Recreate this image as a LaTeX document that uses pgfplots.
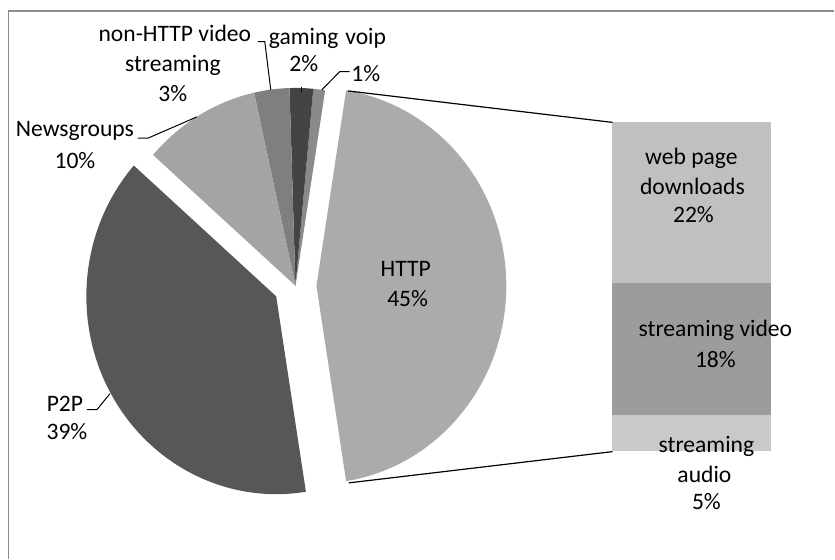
\documentclass[border=0pt]{standalone}
\usepackage{fontspec}
\setmainfont{Carlito}
\usepackage{pgfplots}
\pgfplotsset{compat=1.18}

\definecolor{cHTTP}{HTML}{ABABAB}
\definecolor{cP2P}{HTML}{575757}
\definecolor{cNews}{HTML}{A4A4A4}
\definecolor{cNon}{HTML}{7F7F7F}
\definecolor{cGame}{HTML}{444444}
\definecolor{cVoip}{HTML}{8A8A8A}
\definecolor{cWeb}{HTML}{C0C0C0}
\definecolor{cVideo}{HTML}{9C9C9C}
\definecolor{cAudio}{HTML}{C9C9C9}
\definecolor{frame}{HTML}{8C8C8C}

% one line of a data label, x centre and baseline in pixel units
\newcommand{\lab}[3]{\node[anchor=base,inner sep=0pt] at (axis cs:#1,#2) {#3};}

\begin{document}
\begin{tikzpicture}[font=\fontsize{11.8bp}{15bp}\selectfont]
\fill[white] (0,0) rectangle (417.5bp,279.5bp);

% bar of the HTTP slice: web page downloads 22, streaming video 18, streaming audio 5
\begin{axis}[
    at={(306.5bp,53.6bp)}, anchor=south west,
    width=79.5bp, height=164.6bp, scale only axis,
    xmin=0, xmax=1, ymin=0, ymax=45,
    hide axis, clip=false,
    ybar stacked, bar width=79.5bp,
]
\addplot[fill=cAudio, draw=none] coordinates {(0.5,5)};
\addplot[fill=cVideo, draw=none] coordinates {(0.5,18)};
\addplot[fill=cWeb, draw=none] coordinates {(0.5,22)};
\end{axis}

% main axis in pixel units of the reference (y down)
\begin{axis}[
    at={(0,0)}, anchor=south west,
    width=417.5bp, height=279.5bp, scale only axis,
    xmin=0, xmax=835, ymin=0, ymax=559, y dir=reverse,
    hide axis, clip=false,
]
\pgfplotsextra{
  \xdef\curang{81}
  % value / colour / explode (px)
  \foreach \v/\c/\e in {1/cVoip/0, 2/cGame/0, 3/cNon/0, 10/cNews/0, 39/cP2P/22, 45/cHTTP/21}{
    \pgfmathsetmacro{\endang}{\curang+3.6*\v}
    \pgfmathsetmacro{\midang}{(\curang+\endang)/2}
    \pgfmathsetmacro{\cx}{295.7+\e*cos(\midang)}
    \pgfmathsetmacro{\cy}{286-\e*sin(\midang)}
    \fill[\c] (axis cs:\cx,\cy) -- ++(\curang:95bp and 99bp)
      arc[start angle=\curang, end angle=\endang, x radius=95bp, y radius=99bp] -- cycle;
    \xdef\curang{\endang}
  }
}

% frame
\draw[frame, line width=0.7bp] (axis cs:8.3,559) -- (axis cs:8.3,11) -- (axis cs:835,11);

% connectors to the bar
\draw[black, line width=0.6bp] (axis cs:348.3,91) -- (axis cs:613,122.5);
\draw[black, line width=0.6bp] (axis cs:349,483.3) -- (axis cs:613,452);

% leader lines
\draw[black, line width=0.5bp] (axis cs:138,138.3) -- (axis cs:148,138.3) -- (axis cs:197,117);
\draw[black, line width=0.5bp] (axis cs:258,41.7) -- (axis cs:265,41.7) -- (axis cs:271,90);
\draw[black, line width=0.5bp] (axis cs:302,87) -- (axis cs:302,92);
\draw[black, line width=0.5bp] (axis cs:350,71.7) -- (axis cs:340,71.7) -- (axis cs:322,90);
\draw[black, line width=0.5bp] (axis cs:87,410) -- (axis cs:97,410) -- (axis cs:110,394);

% labels
\lab{175}{41.7}{non-HTTP video}
\lab{173}{72}{streaming}
\lab{173}{101.7}{3\%}
\lab{75}{136.7}{Newsgroups}
\lab{75}{168.3}{10\%}
\lab{304}{45}{gaming}
\lab{304}{71.7}{2\%}
\lab{366}{45}{voip}
\lab{366}{81.7}{1\%}
\lab{65}{411.7}{P2P}
\lab{67}{440}{39\%}
\lab{406}{277}{HTTP}
\lab{408}{307}{45\%}
\lab{692}{165}{web page}
\lab{693}{195}{downloads}
\lab{694}{223}{22\%}
\lab{716}{336.7}{streaming video}
\lab{716}{368}{18\%}
\lab{707}{453}{streaming}
\lab{705}{483}{audio}
\lab{707}{510}{5\%}
\end{axis}
\end{tikzpicture}
\end{document}
